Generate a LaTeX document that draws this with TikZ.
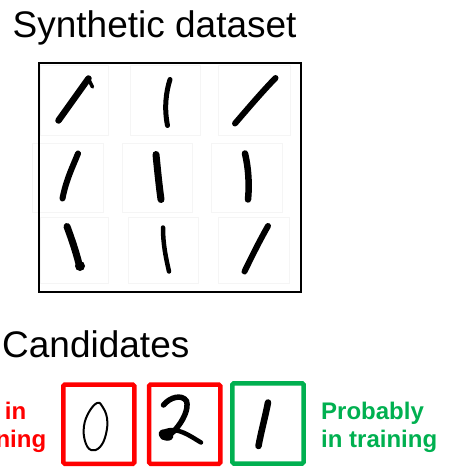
\documentclass[tikz,border=0pt]{standalone}
\usepackage{fontspec}
\setmainfont{Liberation Sans}
\definecolor{candred}{HTML}{FF0000}
\definecolor{candgreen}{HTML}{00B050}
\tikzset{
  digit/.style={line width=#1, line cap=round, line join=round, black},
  digit/.default=6pt,
  cellbox/.style={draw=black!4, line width=0.5pt},
  candbox/.style={draw=#1, line width=4.5pt, rounded corners=1.5pt},
  heading/.style={anchor=base west, inner sep=0pt, font=\fontsize{37}{44}\selectfont},
  verdict/.style={anchor=north west, inner sep=0pt, align=left, text=#1, font=\fontsize{24}{28}\selectfont\bfseries}
}
\begin{document}
\begin{tikzpicture}[x=1pt,y=-1pt]
\useasboundingbox (0,0) rectangle (449,476);
\clip (0,0) rectangle (449,476);
% headings
\node[heading] (title) at (12.5,38) {Synthetic dataset};
\node[heading] (cand) at (2,357) {Candidates};
% faint cell frames
\draw[cellbox] (40,65) rectangle (108,135);
\draw[cellbox] (130,65) rectangle (200,135);
\draw[cellbox] (218,65) rectangle (290,135);
\draw[cellbox] (32,143) rectangle (103,212);
\draw[cellbox] (122,143) rectangle (192,212);
\draw[cellbox] (211,143) rectangle (282,212);
\draw[cellbox] (40,217) rectangle (108,283);
\draw[cellbox] (128,217) rectangle (198,283);
\draw[cellbox] (218,217) rectangle (289,283);
% grid frame
\draw[line width=1.8pt] (39,63) rectangle (301,292);
% row 1
\draw[digit=6.5pt] (58.5,120.5) -- (88.5,78.5);
\draw[digit=3.5pt] (88.5,79) -- (92.5,87);
\draw[digit=5pt] (170,79.5) .. controls (166,92) and (164,108) .. (167.5,125.5);
\draw[digit=6pt] (235,123.5) .. controls (250,106) and (262,92) .. (275.5,78);
% row 2
\draw[digit=6pt] (78,153.5) .. controls (73,166) and (66,180) .. (62.5,198.5);
\draw[digit=7pt] (156,154.5) .. controls (157.5,170) and (159,185) .. (161,199.5);
\draw[digit=6.5pt] (245,153.5) .. controls (248.5,168) and (249.5,185) .. (248,199.5);
% row 3
\draw[digit=7pt] (67,226.5) .. controls (72,240) and (76,252) .. (79,264);
\fill (80,266) circle (5pt);
\draw[digit=4.5pt] (163,227.5) .. controls (163,245) and (166,258) .. (169,271.5);
\draw[digit=6pt] (244.5,271.5) .. controls (252,256) and (260,240) .. (268,226);
% candidate boxes
\draw[candbox=candred] (63.3,384.5) rectangle (134.3,463.8);
\draw[candbox=candred] (149,384.5) rectangle (220.3,463.8);
\draw[candbox=candgreen] (232.3,383.3) rectangle (303.7,463.5);
% candidate digits
\draw[digit=2pt] plot[smooth cycle, tension=0.7] coordinates {(97,403) (89,412) (84,426) (85,441) (91,450) (100,447) (106,434) (107,418) (102,406)};
\draw[digit=5.5pt] (163.5,405) .. controls (170,397) and (182,394) .. (186.5,401)
  .. controls (189,409) and (183,421) .. (175,430)
  .. controls (170,435) and (166,438) .. (163,437);
\fill[rotate around={-20:(166,435)}] (166,435) ellipse (7.5pt and 5.5pt);
\draw[digit=4.5pt] (166,431) .. controls (178,427) and (190,436) .. (201,442.5);
\draw[digit=6.5pt] (268,402.5) .. controls (265,418) and (261,432) .. (258.5,446);
% verdict labels
\node[verdict=candred] (notin) at (-42,401.5) {Not in\\training};
\node[verdict=candgreen] (probin) at (321,401.5) {Probably\\in training};
\end{tikzpicture}
\end{document}
